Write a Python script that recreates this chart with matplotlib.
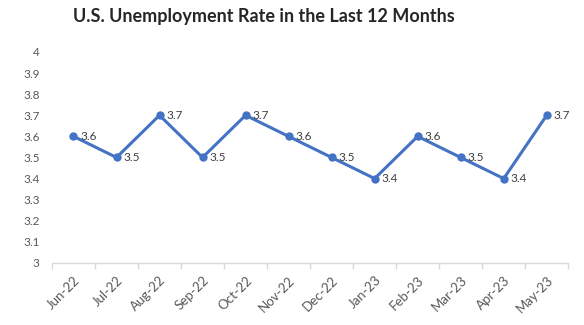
import matplotlib.pyplot as plt
import numpy as np

months = ['Jun-22', 'Jul-22', 'Aug-22', 'Sep-22', 'Oct-22', 'Nov-22',
          'Dec-22', 'Jan-23', 'Feb-23', 'Mar-23', 'Apr-23', 'May-23']
rates = [3.6, 3.5, 3.7, 3.5, 3.7, 3.6, 3.5, 3.4, 3.6, 3.5, 3.4, 3.7]
yticks = [3.0, 3.1, 3.2, 3.3, 3.4, 3.5, 3.6, 3.7, 3.8, 3.9, 4.0]

plt.rcParams['font.family'] = ['Lato', 'DejaVu Sans']

fig = plt.figure(figsize=(5.84, 3.25), dpi=100)
ax = fig.add_axes([0.089, 0.191, 0.884, 0.649])

x = np.arange(len(months))
ax.plot(x, rates, color='#4472C4', linewidth=2.2, marker='o', markersize=5)

for xi, r in zip(x, rates):
    ax.annotate(f'{r:g}', (xi, r), xytext=(5, 0), textcoords='offset points',
                ha='left', va='center', fontsize=8.5, color='#404040')

ax.set_xlim(-0.5, len(months) - 0.5)
ax.set_ylim(3.0, 4.0)
ax.set_yticks(yticks)
ax.set_yticklabels([f'{v:g}' for v in yticks])
ax.set_xticks(x)
ax.set_xticklabels(months, rotation=45, ha='right', rotation_mode='anchor')
ax.set_xticks(np.arange(-0.5, len(months)), minor=True)

ax.tick_params(axis='y', length=0, labelsize=8.5, labelcolor='#595959', pad=9)
ax.tick_params(axis='x', which='major', length=0, labelsize=9.5,
               labelcolor='#595959', pad=8)
ax.tick_params(axis='x', which='minor', length=4, color='#D9D9D9', width=1)

for side in ['top', 'right', 'left']:
    ax.spines[side].set_visible(False)
ax.spines['bottom'].set_color('#D9D9D9')
ax.spines['bottom'].set_linewidth(1)

fig.text(0.452, 0.948, 'U.S. Unemployment Rate in the Last 12 Months',
         ha='center', va='center', fontsize=13, fontweight='bold',
         color='#262626')

fig.savefig('out.png', dpi=100)
